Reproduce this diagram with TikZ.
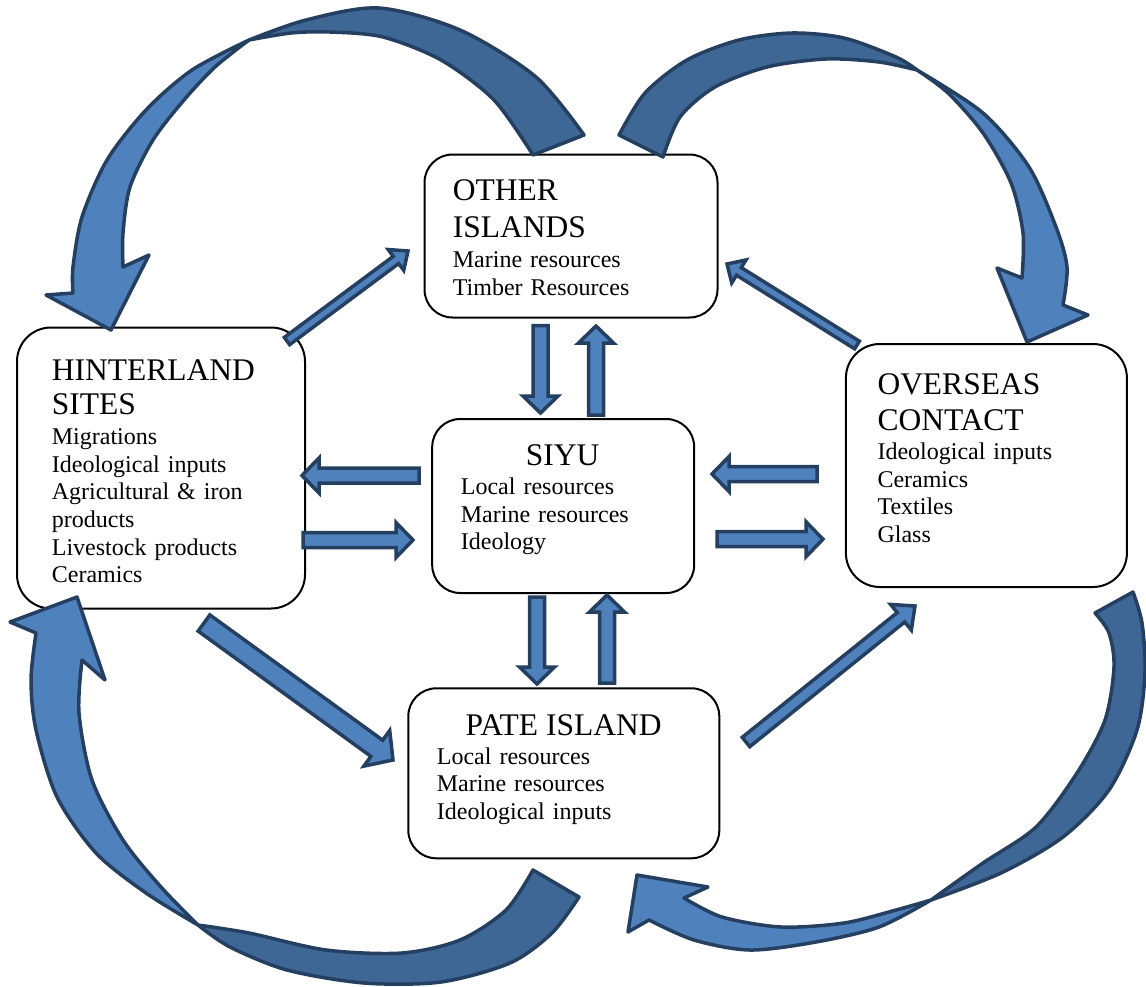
\documentclass[tikz,border=0pt]{standalone}
\usepackage{fontspec}
\setmainfont{Liberation Serif}
\usetikzlibrary{calc}
\definecolor{lightb}{HTML}{4F81BD}
\definecolor{darkb}{HTML}{3E6796}
\definecolor{edgeb}{HTML}{243F60}
\newcommand{\ttl}{\fontsize{31.5}{36}\selectfont}
\newcommand{\itm}{\fontsize{24}{27.7}\selectfont}
% block arrow: #1 start, #2 tip, #3 half shaft, #4 half head, #5 head length
\newcommand{\blockarr}[5]{%
  \coordinate (ba-n) at ($(#2)!#5!(#1)$);
  \draw[barrow] ($(#1)!#3!90:(#2)$) -- ($(ba-n)!#3!-90:(#1)$) -- ($(ba-n)!#4!-90:(#1)$)
    -- (#2) -- ($(ba-n)!#4!90:(#1)$) -- ($(ba-n)!#3!90:(#1)$) -- ($(#1)!#3!-90:(#2)$) -- cycle;}
\tikzset{
  box/.style={draw=black, line width=2pt, fill=white, rounded corners=#1, inner sep=0pt},
  txt/.style={inner sep=0pt, align=left, anchor=base west, font=\itm},
  barrow/.style={fill=lightb, draw=edgeb, line width=3.5pt, line join=miter},
  bandlight/.style={fill=lightb, draw=edgeb, line width=3.5pt, line join=round},
  banddark/.style={fill=darkb, draw=edgeb, line width=3.5pt, line join=round}
}
\begin{document}
\begin{tikzpicture}[x=1pt,y=-1pt]
\useasboundingbox (0,0) rectangle (1146,986);

% boxes
\node[box=28pt, minimum width=293pt, minimum height=163pt] (oth) at (571,236) {};
\node[box=34pt, minimum width=288pt, minimum height=281pt] (hin) at (161,468) {};
\node[box=28pt, minimum width=262pt, minimum height=174pt] (siyu) at (563.2,506) {};
\node[box=34pt, minimum width=281pt, minimum height=243pt] (ovs) at (986.4,465.5) {};
\node[box=28pt, minimum width=311pt, minimum height=170pt] (pate) at (563.8,773.3) {};

% texts
\node[txt, text width=230pt] (oth-t) at (452.7,200) {\ttl OTHER\\[1.3pt]ISLANDS\\[2.7pt]\itm Marine resources\\Timber Resources};
\node[txt, text width=240pt] (hin-t) at (51.7,380.7) {\ttl HINTERLAND\\[-2.4pt]SITES\\[2.3pt]\itm Migrations\\Ideological inputs\\Agricultural \& iron\\products\\Livestock products\\Ceramics};
\node[txt, text width=203.6pt] (siyu-t) at (460.7,465) {\makebox[\linewidth][c]{\ttl SIYU}\\[1.6pt]Local resources\\Marine resources\\Ideology};
\node[txt, text width=235pt] (ovs-t) at (877.3,394.3) {\ttl OVERSEAS\\[0.4pt]CONTACT\\[1pt]\itm Ideological inputs\\Ceramics\\Textiles\\Glass};
\node[txt, text width=253.4pt] (pate-t) at (436.7,735) {\makebox[\linewidth][c]{\ttl PATE ISLAND}\\[1.3pt]Local resources\\Marine resources\\Ideological inputs};

% straight block arrows
\coordinate (a1s) at (287,341);   \coordinate (a1e) at (408,251);
\coordinate (a2s) at (857,345);   \coordinate (a2e) at (727,264);
\coordinate (a3s) at (540.5,325.5); \coordinate (a3e) at (540.5,413);
\coordinate (a4s) at (596,415);   \coordinate (a4e) at (596,326);
\coordinate (a5s) at (419,475.5); \coordinate (a5e) at (302,475.5);
\coordinate (a6s) at (303,540);   \coordinate (a6e) at (413,540);
\coordinate (a7s) at (817,474);   \coordinate (a7e) at (712,474);
\coordinate (a8s) at (717,539.2); \coordinate (a8e) at (823,539.2);
\coordinate (a9s) at (537,597);   \coordinate (a9e) at (537,684);
\coordinate (a10s) at (607,683);  \coordinate (a10e) at (607,595);
\coordinate (a11s) at (204,623);  \coordinate (a11e) at (393,760);
\coordinate (a12s) at (746,742);  \coordinate (a12e) at (915,606);

\blockarr{a1s}{a1e}{4.5pt}{13pt}{15pt}
\blockarr{a2s}{a2e}{4.5pt}{13.5pt}{14pt}
\blockarr{a3s}{a3e}{7.5pt}{17.5pt}{17pt}
\blockarr{a4s}{a4e}{7.5pt}{17.5pt}{17pt}
\blockarr{a5s}{a5e}{7.5pt}{17.5pt}{17pt}
\blockarr{a6s}{a6e}{7.5pt}{17.5pt}{17pt}
\blockarr{a7s}{a7e}{7.5pt}{17.5pt}{17pt}
\blockarr{a8s}{a8e}{7.5pt}{17.5pt}{17pt}
\blockarr{a9s}{a9e}{7.5pt}{17.5pt}{17pt}
\blockarr{a10s}{a10e}{7.5pt}{17.5pt}{17pt}
\blockarr{a11s}{a11e}{10pt}{22pt}{20pt}
\blockarr{a12s}{a12e}{6pt}{16.5pt}{18pt}

% curved arrow: top-left (Other Islands -> Hinterland)
\draw[banddark] plot[smooth] coordinates {(584,135) (536,77) (460,30) (379,8) (306,20) (249,40)}
  -- plot[smooth] coordinates {(249,40) (291,33) (330,32) (383,37) (441,60) (494,100) (533,155)} -- cycle;
\draw[bandlight] plot[smooth] coordinates {(249,40) (192,70) (146,110) (107,160) (82,217) (73,267) (73,293)}
  -- (46,295) -- (111,330) -- (149,255) -- (123,267)
  -- plot[smooth] coordinates {(123,267) (123,233) (130,187) (153,140) (184,100) (215,67) (249,40)} -- cycle;

% curved arrow: top-right (Other Islands -> Overseas)
\draw[banddark] plot[smooth] coordinates {(619,135) (645,93) (687,60) (739,40) (792,33) (844,38) (896,57) (917,70)}
  -- plot[smooth] coordinates {(917,70) (879,62) (826,59) (767,67) (715,87) (680,117) (663,157)} -- cycle;
\draw[bandlight] plot[smooth] coordinates {(917,70) (983,113) (1029,167) (1056,227) (1067,267) (1063,305)}
  -- (1088,315) -- (1027,342) -- (997,268) -- (1022,278)
  -- plot[smooth] coordinates {(1022,278) (1023,233) (1011,183) (983,133) (948,93) (917,70)} -- cycle;

% curved arrow: bottom-left (Pate -> Hinterland)
\draw[banddark] plot[smooth] coordinates {(579,897) (552,933) (510,963) (441,982) (364,983) (287,970) (230,947) (198,925)}
  -- plot[smooth] coordinates {(198,925) (249,933) (326,950) (402,953) (460,940) (506,910) (533,870)} -- cycle;
\draw[bandlight] plot[smooth] coordinates {(198,925) (146,893) (96,853) (57,797) (36,730) (31,680) (36,633)}
  -- (10,622) -- (77,597) -- (105,680) -- (82,660)
  -- plot[smooth] coordinates {(82,660) (79,713) (92,780) (123,840) (161,887) (198,925)} -- cycle;

% curved arrow: bottom-right (Overseas -> Pate)
\draw[banddark] plot[smooth] coordinates {(1133,592) (1142,623) (1145,673) (1137,730) (1109,790) (1063,837) (1001,873) (931,900)}
  -- plot[smooth] coordinates {(931,900) (983,863) (1036,827) (1077,773) (1105,720) (1114,667) (1109,633) (1095,613)} -- cycle;
\draw[bandlight] plot[smooth] coordinates {(931,900) (879,927) (816,942) (750,950) (694,940) (649,920)}
  -- (628,932) -- (637,875) -- (708,887) -- (684,898)
  -- plot[smooth] coordinates {(684,898) (722,917) (781,927) (844,923) (896,910) (931,900)} -- cycle;
\end{tikzpicture}
\end{document}
